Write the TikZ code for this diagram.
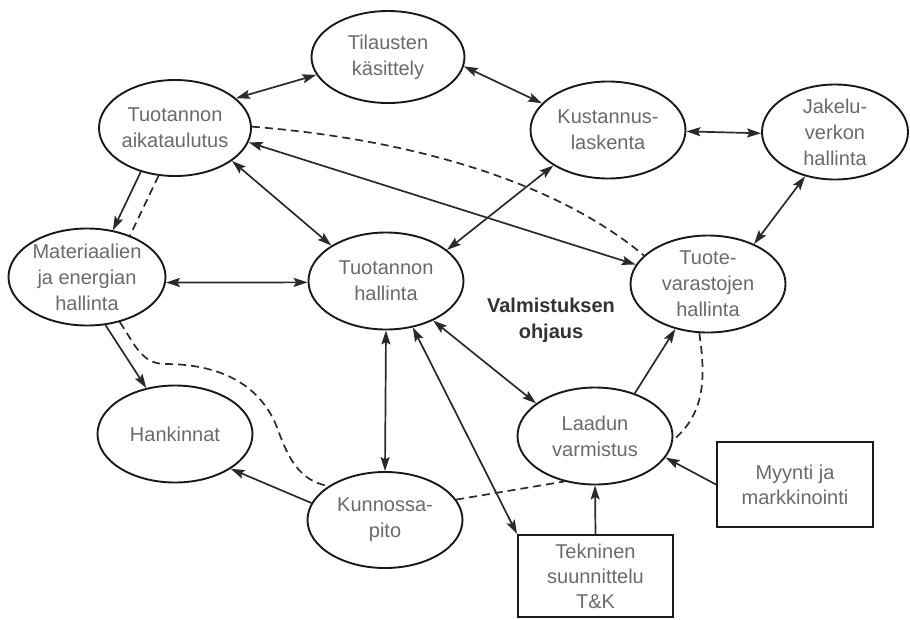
\documentclass[tikz,border=0pt]{standalone}
\usepackage{fontspec}
\setmainfont{Liberation Sans}
\usetikzlibrary{shapes.geometric,arrows.meta}
\definecolor{txtgray}{HTML}{6A6A6A}
\definecolor{ttlgray}{HTML}{333333}
\definecolor{linecol}{HTML}{2A2A2A}
\begin{document}
\begin{tikzpicture}[x=1pt,y=-1pt,
  ell/.style={ellipse, draw=black!90, line width=1.9pt, minimum width=155pt, minimum height=97pt,
    inner sep=-25pt, font=\fontsize{20}{26}\selectfont, text=txtgray, align=center},
  boxnode/.style={rectangle, draw=black!90, line width=2pt, inner sep=0pt,
    font=\fontsize{20}{25}\selectfont, text=txtgray, align=center},
  ttl/.style={font=\bfseries\fontsize{20}{26}\selectfont, text=ttlgray, align=center},
  conn/.style={draw=linecol, line width=1.7pt},
  tipa/.tip={Stealth[length=14pt,width=9pt,inset=2.5pt]},
  dbl/.style={conn, tipa-tipa},
  one/.style={conn, -tipa},
  dsh/.style={conn, dash pattern=on 8pt off 5pt}
]
\useasboundingbox (0,0) rectangle (910,619);

\node[ell, minimum width=152pt, minimum height=96pt] (TA) at (175,128) {Tuotannon\\aikataulutus};
\node[ell, minimum width=153pt, minimum height=92pt] (TK) at (388,57) {Tilausten\\käsittely};
\node[ell] (KL) at (608,130) {Kustannus-\\laskenta};
\node[ell, minimum width=146pt, minimum height=95pt] (JV) at (835,132) {Jakelu-\\verkon\\hallinta};
\node[ell, minimum width=157pt] (MH) at (87,277) {Materiaalien\\ja energian\\hallinta};
\node[ell] (TH) at (386,281) {Tuotannon\\hallinta};
\node[ell] (TV) at (708,284) {Tuote-\\varastojen\\hallinta};
\node[ell] (HK) at (175,434) {Hankinnat};
\node[ell, minimum height=96pt] (KP) at (385,520) {Kunnossa-\\pito};
\node[ell] (LV) at (595,436) {Laadun\\varmistus};
\node[boxnode, minimum width=156pt, minimum height=85pt] (MM) at (795,484.5) {Myynti ja\\markkinointi};
\node[boxnode, minimum width=155pt, minimum height=82pt] (TT) at (595.5,576) {Tekninen\\suunnittelu\\T\&K};
\node[ttl] (VO) at (551,320) {Valmistuksen\\ohjaus};

\draw[dbl] (TA.26) -- (TK.194);
\draw[dbl] (TK.353) -- (KL.158);
\draw[dbl] (KL.359) -- (JV.181);
\draw[dbl] (JV.236) -- (TV.41);
\draw[dbl] (TV.165) -- (TA.349);
\draw[dsh] (TA.1) .. controls (420,140) and (560,185) .. (TV.156);
\draw[dbl] (TA.330) -- (TH.147);
\draw[dbl] (KL.213) -- (TH.27);
\draw[one] (TA.232) -- (MH.61);
\draw[dsh] (TA.251) -- (MH.44);
\draw[dbl] (MH.356) -- (TH.181);
\draw[one] (MH.291) -- (HK.122);
\draw[dsh] (MH.306) to[out=-55,in=180] (165,364) to[out=0,in=110] (278,430) to[out=-70,in=170] (KP.149);
\draw[one] (KP.167) -- (HK.328);
\draw[dbl] (TH.south) -- (KP.north);
\draw[dbl] (TH.300) -- (TT.north west);
\draw[dbl] (TH.320) -- (LV.151);
\draw[one] (LV.47) -- (TV.234);
\draw[dsh] (TV.260) to[out=-82,in=40] (LV.357);
\draw[one] (MM.west) -- (LV.343);
\draw[one] (TT.north) -- (LV.south);
\draw[dsh] (KP.16) -- (LV.236);
\end{tikzpicture}
\end{document}
